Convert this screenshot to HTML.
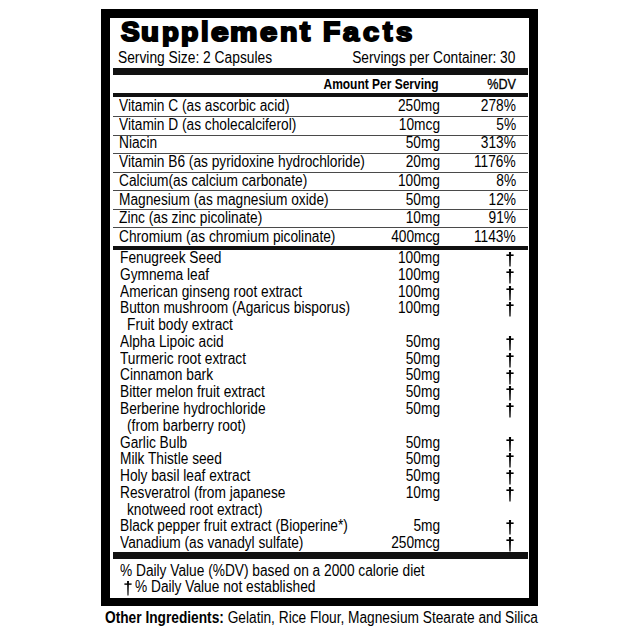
<!DOCTYPE html>
<html><head><meta charset="utf-8"><style>
html,body{margin:0;padding:0;background:#fff;}
body{width:640px;height:640px;position:relative;overflow:hidden;font-family:"Liberation Sans",sans-serif;color:#000;}
.t{position:absolute;white-space:nowrap;line-height:1;}
.r{position:absolute;}
</style></head><body>
<div class="r" style="left:101px;top:9.4px;width:437.00px;height:8.50px;background:#000"></div>
<div class="r" style="left:101px;top:9.4px;width:8.80px;height:596.30px;background:#000"></div>
<div class="r" style="left:529.2px;top:9.4px;width:8.80px;height:596.30px;background:#000"></div>
<div class="r" style="left:101px;top:597.6px;width:437.00px;height:8.10px;background:#000"></div>
<div class="t" style="left:120.59px;top:17.25px;font-size:28.8px;font-weight:bold;-webkit-text-stroke:2.2px #000;transform:scale(0.9732,0.975);transform-origin:0 25.75px">S</div>
<div class="t" style="left:140.96px;top:17.25px;font-size:28.8px;font-weight:bold;-webkit-text-stroke:2.2px #000;transform:scale(1.0215,0.915);transform-origin:0 25.75px">u</div>
<div class="t" style="left:161.68px;top:17.25px;font-size:28.8px;font-weight:bold;-webkit-text-stroke:2.2px #000;transform:scale(0.9552,0.915);transform-origin:0 25.75px">p</div>
<div class="t" style="left:180.86px;top:17.25px;font-size:28.8px;font-weight:bold;-webkit-text-stroke:2.2px #000;transform:scale(0.9851,0.915);transform-origin:0 25.75px">p</div>
<div class="t" style="left:201.17px;top:17.25px;font-size:28.8px;font-weight:bold;-webkit-text-stroke:2.2px #000;transform:scale(0.9469,0.95);transform-origin:0 25.75px">l</div>
<div class="t" style="left:210.50px;top:17.25px;font-size:28.8px;font-weight:bold;-webkit-text-stroke:2.2px #000;transform:scale(1.0992,0.915);transform-origin:0 25.75px">e</div>
<div class="t" style="left:230.10px;top:17.25px;font-size:28.8px;font-weight:bold;-webkit-text-stroke:2.2px #000;transform:scale(1.0694,0.915);transform-origin:0 25.75px">m</div>
<div class="t" style="left:260.20px;top:17.25px;font-size:28.8px;font-weight:bold;-webkit-text-stroke:2.2px #000;transform:scale(1.0748,0.915);transform-origin:0 25.75px">e</div>
<div class="t" style="left:280.16px;top:17.25px;font-size:28.8px;font-weight:bold;-webkit-text-stroke:2.2px #000;transform:scale(0.9922,0.915);transform-origin:0 25.75px">n</div>
<div class="t" style="left:300.39px;top:17.25px;font-size:28.8px;font-weight:bold;-webkit-text-stroke:2.2px #000;transform:scale(1.0517,0.98);transform-origin:0 25.75px">t</div>
<div class="t" style="left:322.64px;top:17.25px;font-size:28.8px;font-weight:bold;-webkit-text-stroke:2.2px #000;transform:scale(0.9791,0.975);transform-origin:0 25.75px">F</div>
<div class="t" style="left:343.25px;top:17.25px;font-size:28.8px;font-weight:bold;-webkit-text-stroke:2.2px #000;transform:scale(1.0057,0.915);transform-origin:0 25.75px">a</div>
<div class="t" style="left:363.10px;top:17.25px;font-size:28.8px;font-weight:bold;-webkit-text-stroke:2.2px #000;transform:scale(1.0015,0.915);transform-origin:0 25.75px">c</div>
<div class="t" style="left:383.43px;top:17.25px;font-size:28.8px;font-weight:bold;-webkit-text-stroke:2.2px #000;transform:scale(0.9798,0.98);transform-origin:0 25.75px">t</div>
<div class="t" style="left:395.98px;top:17.25px;font-size:28.8px;font-weight:bold;-webkit-text-stroke:2.2px #000;transform:scale(1.0154,0.915);transform-origin:0 25.75px">s</div>
<div class="t" style="left:118.20px;top:50.16px;font-size:16px;transform:scaleX(0.862);transform-origin:0 0;">Serving Size: 2 Capsules</div>
<div class="t" style="right:124.50px;top:50.16px;font-size:16px;transform:scaleX(0.857);transform-origin:100% 0;">Servings per Container: 30</div>
<div class="r" style="left:113px;top:67.6px;width:415.00px;height:7.50px;background:#111"></div>
<div class="t" style="right:201.20px;top:77.35px;font-size:14px;font-weight:bold;transform:scaleX(0.855);transform-origin:100% 0;">Amount Per Serving</div>
<div class="t" style="right:124.00px;top:77.35px;font-size:14px;transform:scaleX(0.9);transform-origin:100% 0;-webkit-text-stroke:0.3px #000;">%DV</div>
<div class="r" style="left:113px;top:92.5px;width:415.00px;height:4.50px;background:#111"></div>
<div class="t" style="left:119.00px;top:97.86px;font-size:16px;transform:scaleX(0.857);transform-origin:0 0;">Vitamin C (as ascorbic acid)</div>
<div class="t" style="right:200.40px;top:97.86px;font-size:16px;transform:scaleX(0.857);transform-origin:100% 0;">250mg</div>
<div class="t" style="right:124.00px;top:97.86px;font-size:16px;transform:scaleX(0.857);transform-origin:100% 0;">278%</div>
<div class="t" style="left:119.00px;top:116.59px;font-size:16px;transform:scaleX(0.857);transform-origin:0 0;">Vitamin D (as cholecalciferol)</div>
<div class="t" style="right:200.40px;top:116.59px;font-size:16px;transform:scaleX(0.857);transform-origin:100% 0;">10mcg</div>
<div class="t" style="right:124.00px;top:116.59px;font-size:16px;transform:scaleX(0.857);transform-origin:100% 0;">5%</div>
<div class="t" style="left:119.00px;top:135.32px;font-size:16px;transform:scaleX(0.857);transform-origin:0 0;">Niacin</div>
<div class="t" style="right:200.40px;top:135.32px;font-size:16px;transform:scaleX(0.857);transform-origin:100% 0;">50mg</div>
<div class="t" style="right:124.00px;top:135.32px;font-size:16px;transform:scaleX(0.857);transform-origin:100% 0;">313%</div>
<div class="t" style="left:119.00px;top:154.05px;font-size:16px;transform:scaleX(0.857);transform-origin:0 0;">Vitamin B6 (as pyridoxine hydrochloride)</div>
<div class="t" style="right:200.40px;top:154.05px;font-size:16px;transform:scaleX(0.857);transform-origin:100% 0;">20mg</div>
<div class="t" style="right:124.00px;top:154.05px;font-size:16px;transform:scaleX(0.857);transform-origin:100% 0;">1176%</div>
<div class="t" style="left:119.00px;top:172.78px;font-size:16px;transform:scaleX(0.857);transform-origin:0 0;">Calcium(as calcium carbonate)</div>
<div class="t" style="right:200.40px;top:172.78px;font-size:16px;transform:scaleX(0.857);transform-origin:100% 0;">100mg</div>
<div class="t" style="right:124.00px;top:172.78px;font-size:16px;transform:scaleX(0.857);transform-origin:100% 0;">8%</div>
<div class="t" style="left:119.00px;top:191.51px;font-size:16px;transform:scaleX(0.857);transform-origin:0 0;">Magnesium (as magnesium oxide)</div>
<div class="t" style="right:200.40px;top:191.51px;font-size:16px;transform:scaleX(0.857);transform-origin:100% 0;">50mg</div>
<div class="t" style="right:124.00px;top:191.51px;font-size:16px;transform:scaleX(0.857);transform-origin:100% 0;">12%</div>
<div class="t" style="left:119.00px;top:210.24px;font-size:16px;transform:scaleX(0.857);transform-origin:0 0;">Zinc (as zinc picolinate)</div>
<div class="t" style="right:200.40px;top:210.24px;font-size:16px;transform:scaleX(0.857);transform-origin:100% 0;">10mg</div>
<div class="t" style="right:124.00px;top:210.24px;font-size:16px;transform:scaleX(0.857);transform-origin:100% 0;">91%</div>
<div class="t" style="left:119.00px;top:228.97px;font-size:16px;transform:scaleX(0.857);transform-origin:0 0;">Chromium (as chromium picolinate)</div>
<div class="t" style="right:200.40px;top:228.97px;font-size:16px;transform:scaleX(0.857);transform-origin:100% 0;">400mcg</div>
<div class="t" style="right:124.00px;top:228.97px;font-size:16px;transform:scaleX(0.857);transform-origin:100% 0;">1143%</div>
<div class="r" style="left:113px;top:116.1px;width:415.00px;height:1.30px;background:#4a4a4a"></div>
<div class="r" style="left:113px;top:134.6px;width:415.00px;height:1.30px;background:#4a4a4a"></div>
<div class="r" style="left:113px;top:153.1px;width:415.00px;height:1.30px;background:#4a4a4a"></div>
<div class="r" style="left:113px;top:171.6px;width:415.00px;height:1.30px;background:#4a4a4a"></div>
<div class="r" style="left:113px;top:190.1px;width:415.00px;height:1.30px;background:#4a4a4a"></div>
<div class="r" style="left:113px;top:208.6px;width:415.00px;height:1.30px;background:#4a4a4a"></div>
<div class="r" style="left:113px;top:227.1px;width:415.00px;height:1.30px;background:#4a4a4a"></div>
<div class="r" style="left:113px;top:246.0px;width:415.00px;height:3.80px;background:#111"></div>
<div class="t" style="left:119.50px;top:250.16px;font-size:16px;transform:scaleX(0.857);transform-origin:0 0;">Fenugreek Seed</div>
<div class="t" style="right:199.70px;top:250.16px;font-size:16px;transform:scaleX(0.857);transform-origin:100% 0;">100mg</div>
<svg style="position:absolute;left:504.50px;top:251px" width="10" height="17" viewBox="0 0 10 17"><polygon points="3.91,0.9 6.09,0.9 5.60,15.5 4.40,15.5" fill="#000"/><rect x="1.4" y="3.40" width="7.2" height="1.6" fill="#000"/></svg>
<div class="t" style="left:119.50px;top:266.92px;font-size:16px;transform:scaleX(0.857);transform-origin:0 0;">Gymnema leaf</div>
<div class="t" style="right:199.70px;top:266.92px;font-size:16px;transform:scaleX(0.857);transform-origin:100% 0;">100mg</div>
<svg style="position:absolute;left:504.50px;top:268px" width="10" height="17" viewBox="0 0 10 17"><polygon points="3.91,0.9 6.09,0.9 5.60,15.5 4.40,15.5" fill="#000"/><rect x="1.4" y="3.40" width="7.2" height="1.6" fill="#000"/></svg>
<div class="t" style="left:119.50px;top:283.68px;font-size:16px;transform:scaleX(0.857);transform-origin:0 0;">American ginseng root extract</div>
<div class="t" style="right:199.70px;top:283.68px;font-size:16px;transform:scaleX(0.857);transform-origin:100% 0;">100mg</div>
<svg style="position:absolute;left:504.50px;top:285px" width="10" height="17" viewBox="0 0 10 17"><polygon points="3.91,0.9 6.09,0.9 5.60,15.5 4.40,15.5" fill="#000"/><rect x="1.4" y="3.40" width="7.2" height="1.6" fill="#000"/></svg>
<div class="t" style="left:119.50px;top:300.44px;font-size:16px;transform:scaleX(0.857);transform-origin:0 0;">Button mushroom (Agaricus bisporus)</div>
<div class="t" style="right:199.70px;top:300.44px;font-size:16px;transform:scaleX(0.857);transform-origin:100% 0;">100mg</div>
<svg style="position:absolute;left:504.50px;top:301px" width="10" height="17" viewBox="0 0 10 17"><polygon points="3.91,0.9 6.09,0.9 5.60,15.5 4.40,15.5" fill="#000"/><rect x="1.4" y="3.40" width="7.2" height="1.6" fill="#000"/></svg>
<div class="t" style="left:127.40px;top:317.20px;font-size:16px;transform:scaleX(0.857);transform-origin:0 0;">Fruit body extract</div>
<div class="t" style="left:119.50px;top:333.96px;font-size:16px;transform:scaleX(0.857);transform-origin:0 0;">Alpha Lipoic acid</div>
<div class="t" style="right:199.70px;top:333.96px;font-size:16px;transform:scaleX(0.857);transform-origin:100% 0;">50mg</div>
<svg style="position:absolute;left:504.50px;top:335px" width="10" height="17" viewBox="0 0 10 17"><polygon points="3.91,0.9 6.09,0.9 5.60,15.5 4.40,15.5" fill="#000"/><rect x="1.4" y="3.40" width="7.2" height="1.6" fill="#000"/></svg>
<div class="t" style="left:119.50px;top:350.72px;font-size:16px;transform:scaleX(0.857);transform-origin:0 0;">Turmeric root extract</div>
<div class="t" style="right:199.70px;top:350.72px;font-size:16px;transform:scaleX(0.857);transform-origin:100% 0;">50mg</div>
<svg style="position:absolute;left:504.50px;top:352px" width="10" height="17" viewBox="0 0 10 17"><polygon points="3.91,0.9 6.09,0.9 5.60,15.5 4.40,15.5" fill="#000"/><rect x="1.4" y="3.40" width="7.2" height="1.6" fill="#000"/></svg>
<div class="t" style="left:119.50px;top:367.48px;font-size:16px;transform:scaleX(0.857);transform-origin:0 0;">Cinnamon bark</div>
<div class="t" style="right:199.70px;top:367.48px;font-size:16px;transform:scaleX(0.857);transform-origin:100% 0;">50mg</div>
<svg style="position:absolute;left:504.50px;top:369px" width="10" height="17" viewBox="0 0 10 17"><polygon points="3.91,0.9 6.09,0.9 5.60,15.5 4.40,15.5" fill="#000"/><rect x="1.4" y="3.40" width="7.2" height="1.6" fill="#000"/></svg>
<div class="t" style="left:119.50px;top:384.24px;font-size:16px;transform:scaleX(0.857);transform-origin:0 0;">Bitter melon fruit extract</div>
<div class="t" style="right:199.70px;top:384.24px;font-size:16px;transform:scaleX(0.857);transform-origin:100% 0;">50mg</div>
<svg style="position:absolute;left:504.50px;top:385px" width="10" height="17" viewBox="0 0 10 17"><polygon points="3.91,0.9 6.09,0.9 5.60,15.5 4.40,15.5" fill="#000"/><rect x="1.4" y="3.40" width="7.2" height="1.6" fill="#000"/></svg>
<div class="t" style="left:119.50px;top:401.00px;font-size:16px;transform:scaleX(0.857);transform-origin:0 0;">Berberine hydrochloride</div>
<div class="t" style="right:199.70px;top:401.00px;font-size:16px;transform:scaleX(0.857);transform-origin:100% 0;">50mg</div>
<svg style="position:absolute;left:504.50px;top:402px" width="10" height="17" viewBox="0 0 10 17"><polygon points="3.91,0.9 6.09,0.9 5.60,15.5 4.40,15.5" fill="#000"/><rect x="1.4" y="3.40" width="7.2" height="1.6" fill="#000"/></svg>
<div class="t" style="left:127.40px;top:417.76px;font-size:16px;transform:scaleX(0.857);transform-origin:0 0;">(from barberry root)</div>
<div class="t" style="left:119.50px;top:434.52px;font-size:16px;transform:scaleX(0.857);transform-origin:0 0;">Garlic Bulb</div>
<div class="t" style="right:199.70px;top:434.52px;font-size:16px;transform:scaleX(0.857);transform-origin:100% 0;">50mg</div>
<svg style="position:absolute;left:504.50px;top:436px" width="10" height="17" viewBox="0 0 10 17"><polygon points="3.91,0.9 6.09,0.9 5.60,15.5 4.40,15.5" fill="#000"/><rect x="1.4" y="3.40" width="7.2" height="1.6" fill="#000"/></svg>
<div class="t" style="left:119.50px;top:451.28px;font-size:16px;transform:scaleX(0.857);transform-origin:0 0;">Milk Thistle seed</div>
<div class="t" style="right:199.70px;top:451.28px;font-size:16px;transform:scaleX(0.857);transform-origin:100% 0;">50mg</div>
<svg style="position:absolute;left:504.50px;top:452px" width="10" height="17" viewBox="0 0 10 17"><polygon points="3.91,0.9 6.09,0.9 5.60,15.5 4.40,15.5" fill="#000"/><rect x="1.4" y="3.40" width="7.2" height="1.6" fill="#000"/></svg>
<div class="t" style="left:119.50px;top:468.04px;font-size:16px;transform:scaleX(0.857);transform-origin:0 0;">Holy basil leaf extract</div>
<div class="t" style="right:199.70px;top:468.04px;font-size:16px;transform:scaleX(0.857);transform-origin:100% 0;">50mg</div>
<svg style="position:absolute;left:504.50px;top:469px" width="10" height="17" viewBox="0 0 10 17"><polygon points="3.91,0.9 6.09,0.9 5.60,15.5 4.40,15.5" fill="#000"/><rect x="1.4" y="3.40" width="7.2" height="1.6" fill="#000"/></svg>
<div class="t" style="left:119.50px;top:484.80px;font-size:16px;transform:scaleX(0.857);transform-origin:0 0;">Resveratrol (from japanese</div>
<div class="t" style="right:199.70px;top:484.80px;font-size:16px;transform:scaleX(0.857);transform-origin:100% 0;">10mg</div>
<svg style="position:absolute;left:504.50px;top:486px" width="10" height="17" viewBox="0 0 10 17"><polygon points="3.91,0.9 6.09,0.9 5.60,15.5 4.40,15.5" fill="#000"/><rect x="1.4" y="3.40" width="7.2" height="1.6" fill="#000"/></svg>
<div class="t" style="left:127.40px;top:501.56px;font-size:16px;transform:scaleX(0.857);transform-origin:0 0;">knotweed root extract)</div>
<div class="t" style="left:119.50px;top:518.32px;font-size:16px;transform:scaleX(0.857);transform-origin:0 0;">Black pepper fruit extract (Bioperine*)</div>
<div class="t" style="right:199.70px;top:518.32px;font-size:16px;transform:scaleX(0.857);transform-origin:100% 0;">5mg</div>
<svg style="position:absolute;left:504.50px;top:519px" width="10" height="17" viewBox="0 0 10 17"><polygon points="3.91,0.9 6.09,0.9 5.60,15.5 4.40,15.5" fill="#000"/><rect x="1.4" y="3.40" width="7.2" height="1.6" fill="#000"/></svg>
<div class="t" style="left:119.50px;top:535.08px;font-size:16px;transform:scaleX(0.857);transform-origin:0 0;">Vanadium (as vanadyl sulfate)</div>
<div class="t" style="right:199.70px;top:535.08px;font-size:16px;transform:scaleX(0.857);transform-origin:100% 0;">250mcg</div>
<svg style="position:absolute;left:504.50px;top:536px" width="10" height="17" viewBox="0 0 10 17"><polygon points="3.91,0.9 6.09,0.9 5.60,15.5 4.40,15.5" fill="#000"/><rect x="1.4" y="3.40" width="7.2" height="1.6" fill="#000"/></svg>
<div class="r" style="left:113px;top:552px;width:415.00px;height:6.80px;background:#111"></div>
<div class="t" style="left:119.80px;top:562.56px;font-size:16px;transform:scaleX(0.857);transform-origin:0 0;">% Daily Value (%DV) based on a 2000 calorie diet</div>
<svg style="position:absolute;left:122.60px;top:580px" width="10" height="17" viewBox="0 0 10 17"><polygon points="4.05,0.9 5.95,0.9 5.52,15.5 4.48,15.5" fill="#000"/><rect x="1.4" y="3.40" width="7.2" height="1.4" fill="#000"/></svg>
<div class="t" style="left:135.00px;top:578.56px;font-size:16px;transform:scaleX(0.857);transform-origin:0 0;">% Daily Value not established</div>
<div class="t" style="left:104.80px;top:610.06px;font-size:16px;transform:scaleX(0.857);transform-origin:0 0;"><b>Other Ingredients:</b> Gelatin, Rice Flour, Magnesium Stearate and Silica</div>
</body></html>
